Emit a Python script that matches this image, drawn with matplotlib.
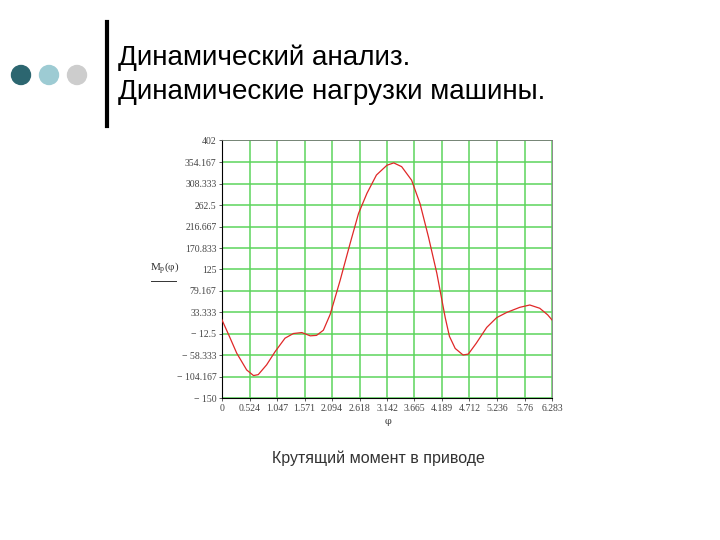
import matplotlib.pyplot as plt
from matplotlib.patches import Ellipse
from matplotlib.lines import Line2D

# Torque curve
phi = [0.0, 0.14, 0.28, 0.47, 0.60, 0.69, 0.85, 1.01, 1.20, 1.36, 1.52, 1.68,
       1.80, 1.93, 2.06, 2.25, 2.44, 2.60, 2.76, 2.94, 3.14, 3.27, 3.42, 3.61,
       3.77, 3.93, 4.09, 4.25, 4.33, 4.44, 4.59, 4.69, 4.84, 5.04, 5.23, 5.42,
       5.67, 5.86, 6.05, 6.20, 6.283]
torque = [17, -18, -54, -90, -102, -100, -79, -51, -22, -12, -10, -17,
          -16, -5, 29, 102, 181, 245, 288, 327, 348, 353, 345, 316,
          266, 195, 117, 22, -18, -44, -58, -56, -33, 1, 22, 33,
          44, 49, 42, 28, 17]

x_ticks = [0, 0.524, 1.047, 1.571, 2.094, 2.618, 3.142, 3.665, 4.189, 4.712, 5.236, 5.76, 6.283]
x_labels = ["0", "0.524", "1.047", "1.571", "2.094", "2.618", "3.142", "3.665",
            "4.189", "4.712", "5.236", "5.76", "6.283"]
y_ticks = [402, 354.167, 308.333, 262.5, 216.667, 170.833, 125, 79.167,
           33.333, -12.5, -58.333, -104.167, -150]
y_labels = ["402", "354.167", "308.333", "262.5", "216.667", "170.833", "125",
            "79.167", "33.333", "\u2212 12.5", "\u2212 58.333", "\u2212 104.167", "\u2212 150"]

plt.rcParams['font.family'] = ['Liberation Sans', 'DejaVu Sans']

fig = plt.figure(figsize=(7.2, 5.4), dpi=100)

# slide header
fig.text(118 / 720, 1 - 58 / 540, "Динамический анализ.", fontsize=20.1, va='center', ha='left')
fig.text(118 / 720, 1 - 92 / 540, "Динамические нагрузки машины.", fontsize=20.1, va='center', ha='left')
fig.add_artist(Line2D([107 / 720, 107 / 720], [1 - 22 / 540, 1 - 126 / 540],
                      color='black', lw=3, transform=fig.transFigure))
for cx, col in [(21, '#2c6670'), (49, '#9dcbd3'), (77, '#cdcdcd')]:
    fig.add_artist(Ellipse((cx / 720, 1 - 75 / 540), 19 / 720, 19 / 540, color=col,
                           transform=fig.transFigure))

ax = fig.add_axes([222 / 720, 1 - 398 / 540, 330 / 720, 258 / 540])
ax.plot(phi, torque, color='#e02828', lw=0.9, zorder=3)
ax.set_xlim(0, 6.283)
ax.set_ylim(-150, 402)
ax.set_xticks(x_ticks)
ax.set_xticklabels(x_labels)
ax.set_yticks(y_ticks)
ax.set_yticklabels(y_labels)
for lab in ax.get_xticklabels() + ax.get_yticklabels():
    lab.set_fontfamily('Liberation Serif')
    lab.set_fontsize(7)
    lab.set_color('#444444')
ax.tick_params(length=2, width=0.6, pad=2, colors='#444444')
ax.grid(True, color='#5cd45c', lw=1.1)
for side in ['left', 'bottom']:
    ax.spines[side].set_color('black')
for side in ['top', 'right']:
    ax.spines[side].set_color('#777777')
    ax.spines[side].set_linewidth(0.6)

fig.text(165 / 720, 1 - 268 / 540, r"$\mathregular{M_p(\varphi)}$", fontsize=8,
         family='Liberation Serif', ha='center', va='center', color='#333333')
fig.add_artist(Line2D([151 / 720, 176 / 720], [1 - 281 / 540, 1 - 281 / 540],
                      color='#333333', lw=0.7, transform=fig.transFigure))
fig.text(388 / 720, 1 - 422 / 540, "\u03c6", fontsize=7, family='DejaVu Serif',
         ha='center', va='center', color='#444444')

fig.text(378 / 720, 1 - 458 / 540, "Крутящий момент в приводе", fontsize=11.5,
         ha='center', va='center', color='#333333')

plt.savefig("out.png", dpi=100)
